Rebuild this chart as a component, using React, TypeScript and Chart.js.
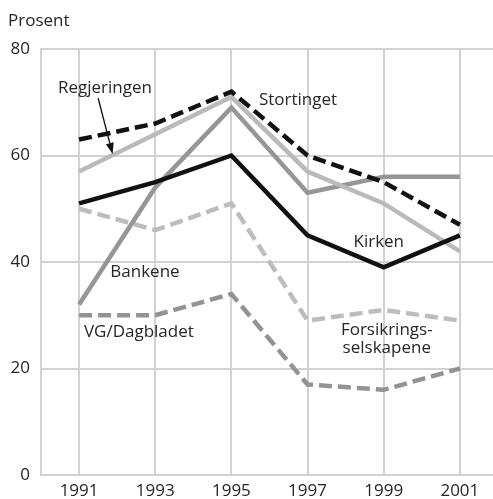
import React, { useEffect, useRef } from "react";
import { Chart, registerables } from "chart.js";

Chart.register(...registerables);

const years = [1991, 1993, 1995, 1997, 1999, 2001];
const yTicks = [0, 20, 40, 60, 80];

const stortinget = [63, 66, 72, 60, 55, 47];
const regjeringen = [57, 64, 71, 57, 51, 42];
const kirken = [51, 55, 60, 45, 39, 45];
const bankene = [32, 54, 69, 53, 56, 56];
const forsikring = [50, 46, 51, 29, 31, 29];
const vgDagbladet = [30, 30, 34, 17, 16, 20];

const yTitle = "Prosent";

// label anchors in data units: [text lines, x (year), y (value)]
const seriesLabels: [string[], number, number][] = [
  [["Regjeringen"], 1991.68, 72.7],
  [["Stortinget"], 1996.75, 70.4],
  [["Kirken"], 1998.87, 43.8],
  [["Bankene"], 1992.73, 38.1],
  [["VG/Dagbladet"], 1992.57, 26.9],
  [["Forsikrings-", "selskapene"], 1999.08, 27.2],
];
// arrow from Regjeringen label to its line (data units)
const arrowFrom = [1991.5, 70.8];
const arrowTo = [1991.88, 60.3];

const FONT = "'Open Sans', sans-serif";
const TEXT = "#262626";
const GRID = "#d2d2d2";

const toPts = (vals: number[]) => vals.map((v, i) => ({ x: years[i], y: v }));

export default function App() {
  const ref = useRef<HTMLCanvasElement | null>(null);
  useEffect(() => {
    const canvas = ref.current!;
    const annot = {
      id: "annot",
      afterDatasetsDraw(chart: any) {
        const ctx = chart.ctx;
        const xs = chart.scales.x;
        const ys = chart.scales.y;
        ctx.save();
        ctx.fillStyle = TEXT;
        ctx.font = `17px ${FONT}`;
        ctx.textAlign = "center";
        ctx.textBaseline = "middle";
        for (const [lines, xv, yv] of seriesLabels) {
          const cx = xs.getPixelForValue(xv);
          const cy = ys.getPixelForValue(yv);
          lines.forEach((t, i) => ctx.fillText(t, cx, cy + i * 18));
        }
        // title
        ctx.textAlign = "left";
        ctx.textBaseline = "alphabetic";
        ctx.fillText(yTitle, 8, 26);
        // arrow
        const x1 = xs.getPixelForValue(arrowFrom[0]);
        const y1 = ys.getPixelForValue(arrowFrom[1]);
        const x2 = xs.getPixelForValue(arrowTo[0]);
        const y2 = ys.getPixelForValue(arrowTo[1]);
        const ang = Math.atan2(y2 - y1, x2 - x1);
        const hl = 11, hw = 4;
        const bx = x2 - hl * Math.cos(ang);
        const by = y2 - hl * Math.sin(ang);
        ctx.strokeStyle = "#111";
        ctx.lineWidth = 1.3;
        ctx.beginPath();
        ctx.moveTo(x1, y1);
        ctx.lineTo(bx, by);
        ctx.stroke();
        ctx.fillStyle = "#111";
        ctx.beginPath();
        ctx.moveTo(x2, y2);
        ctx.lineTo(bx + hw * Math.sin(ang), by - hw * Math.cos(ang));
        ctx.lineTo(bx - hw * Math.sin(ang), by + hw * Math.cos(ang));
        ctx.closePath();
        ctx.fill();
        ctx.restore();
      },
    };
    const line = (label: string, data: number[], color: string, dash: number[] = []) => ({
      label,
      data: toPts(data),
      borderColor: color,
      backgroundColor: color,
      borderWidth: 4.5,
      borderDash: dash,
      pointRadius: 0,
      tension: 0,
      borderCapStyle: "butt",
      borderJoinStyle: "miter",
      fill: false,
    });
    const chart = new Chart(canvas, {
      type: "line",
      data: {
        datasets: [
          line("Stortinget", stortinget, "#111111", [13, 6]),
          line("Kirken", kirken, "#111111"),
          line("Regjeringen", regjeringen, "#bababa"),
          line("Bankene", bankene, "#969696"),
          line("Forsikringsselskapene", forsikring, "#bdbdbd", [13, 6]),
          line("VG/Dagbladet", vgDagbladet, "#939393", [13, 6]),
        ] as any,
      },
      options: {
        responsive: false,
        animation: false,
        layout: { padding: { top: 49, left: 0, right: 0, bottom: 0 } },
        plugins: { legend: { display: false }, tooltip: { enabled: false }, title: { display: false } },
        scales: {
          x: {
            type: "linear",
            min: 1990,
            max: 2001.87,
            afterBuildTicks: (s: any) => {
              s.ticks = years.map((v) => ({ value: v }));
            },
            afterFit: (s: any) => {
              s.height = 24;
            },
            grid: { color: GRID, lineWidth: 2, drawTicks: false },
            border: { color: GRID, width: 2 },
            ticks: {
              autoSkip: false,
              maxRotation: 0,
              padding: 6,
              color: TEXT,
              font: { family: FONT, size: 17 },
              callback: (v: any) => String(v),
            },
          },
          y: {
            min: 0,
            max: 80,
            afterBuildTicks: (s: any) => {
              s.ticks = yTicks.map((v) => ({ value: v }));
            },
            afterFit: (s: any) => {
              s.width = 41;
            },
            grid: { color: GRID, lineWidth: 2, drawTicks: false },
            border: { color: GRID, width: 2 },
            ticks: {
              padding: 11,
              color: TEXT,
              font: { family: FONT, size: 17 },
              callback: (v: any) => String(v),
            },
          },
        },
      },
      plugins: [annot],
    } as any);
    return () => chart.destroy();
  }, []);
  return (
    <div style={{ position: "fixed", left: 0, top: 0, width: 493, height: 499, background: "#fff" }}>
      <canvas ref={ref} width={493} height={499} style={{ display: "block" }} />
    </div>
  );
}
